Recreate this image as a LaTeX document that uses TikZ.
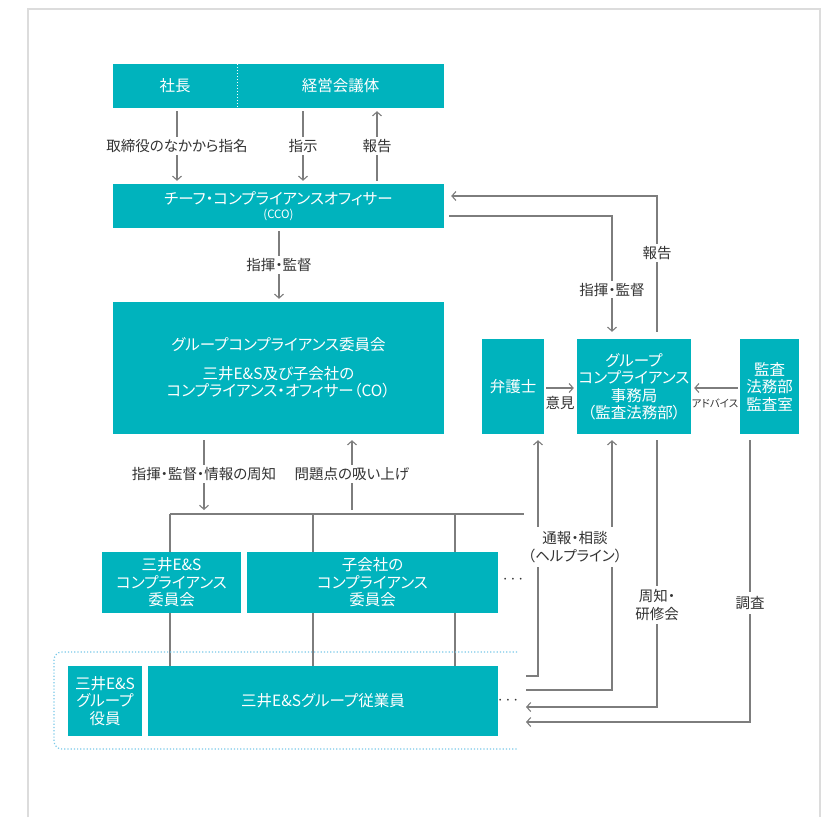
\documentclass[tikz,border=0pt]{standalone}
\usepackage{fontspec}
\setmainfont{Noto Sans CJK JP}[RawFeature=+palt]
\usetikzlibrary{arrows.meta,backgrounds}
\definecolor{boxteal}{RGB}{0,179,189}
\definecolor{linegray}{RGB}{125,125,125}
\definecolor{textgray}{RGB}{51,51,51}
\definecolor{dotblue}{RGB}{120,200,232}
\definecolor{framegray}{RGB}{220,220,220}
\tikzset{
    box/.style={fill=boxteal, text=white, align=center, inner sep=0pt, font=\fontsize{15.5}{17.5}\selectfont},
    conn/.style={draw=linegray, line width=1.1pt},
    arr/.style={conn, -{Straight Barb[length=4pt,width=9pt]}, shorten >=3pt, shorten <=3pt},
    lbl/.style={fill=white, text=textgray, inner sep=2pt, align=center, font=\fontsize{14.5}{17.5}\selectfont},
    dots/.style={text=textgray, inner sep=0pt, font=\fontsize{17}{17}\selectfont}
}
\begin{document}
\begin{tikzpicture}[x=1pt, y=-1pt]
    \useasboundingbox (0,0) rectangle (837,817);
    \draw [framegray, line width=1.2pt] (28,817) -- (28,9) -- (820,9) -- (820,817);
    \node [box, minimum width=124, minimum height=44] (shacho) at (175,86) {社長};
    \node [box, minimum width=207, minimum height=44] (keiei) at (340.5,86) {経営会議体};
    \draw [white, dotted, line width=1pt] (shacho.north east) -- (shacho.south east);
    \node [box, minimum width=331, minimum height=44] (cco) at (278.5,206) {チーフ・コンプライアンスオフィサー\\[-3pt]{\fontsize{11.5}{13}\selectfont (CCO)}};
    \node [box, minimum width=331, minimum height=132] (iinkai) at (278.5,368) {グループコンプライアンス委員会\\[11pt]三井E\&S及び子会社の\\コンプライアンス・オフィサー（CO）};
    \node [box, minimum width=62, minimum height=95] (bengoshi) at (513,386.5) {弁護士};
    \node [box, minimum width=114, minimum height=95] (jimukyoku) at (634,386.5) {グループ\\コンプライアンス\\事務局\\（監査法務部）};
    \node [box, minimum width=59, minimum height=95] (kansa) at (769.5,386.5) {監査\\法務部\\監査室};
    \node [box, minimum width=139, minimum height=61] (esiinkai) at (171.5,582.5) {三井E\&S\\コンプライアンス\\委員会};
    \node [box, minimum width=251, minimum height=61] (kogaisha) at (372.5,582.5) {子会社の\\コンプライアンス\\委員会};
    \node [box, minimum width=74, minimum height=70] (yakuin) at (105,701) {三井E\&S\\グループ\\役員};
    \node [box, minimum width=350, minimum height=70] (jugyoin) at (323,701) {三井E\&Sグループ従業員};
    \node [dots] (dotsA) at (513,580) {$\cdots$};
    \node [dots] (dotsB) at (508,701) {$\cdots$};
    \draw [dotblue, dotted, line width=1.2pt, rounded corners=8pt] (517,652) -- (54,652) -- (54,749) -- (517,749);
    \coordinate (tree) at (170,514);
    \begin{scope}[on background layer]
        \draw [conn] (tree) -- (524,514);
        \foreach \xx in {170,313,455} \draw [conn] (tree -| \xx,0) -- (jugyoin.north -| \xx,0);
    \end{scope}
    \draw [arr] (shacho.south -| 177,0) -- (cco.north -| 177,0) node [lbl, midway] (lshimei) {取締役のなかから指名};
    \draw [arr] (keiei.south -| 303,0) -- (cco.north -| 303,0) node [lbl, midway] (lshiji) {指示};
    \draw [arr] (cco.north -| 377,0) -- (keiei.south -| 377,0) node [lbl, midway] (lhoukoku) {報告};
    \draw [arr] (cco.south -| 279,0) -- (iinkai.north -| 279,0) node [lbl, midway] (lshiki) {指揮・監督};
    \draw [arr, shorten >=4pt, shorten <=6pt] (iinkai.south -| 204,0) -- (tree -| 204,0) node [lbl, midway] (lshuchi) {指揮・監督・情報の周知};
    \draw [arr, shorten >=6pt, shorten <=4pt] (tree -| 352,0) -- (iinkai.south -| 352,0) node [lbl, midway] (lsuiage) {問題点の吸い上げ};
    \draw [arr, shorten >=7pt, shorten <=5pt] (cco.east |- 0,216) -| (jimukyoku.north -| 612,0) node [lbl, pos=0.8] (lshiki2) {指揮・監督};
    \draw [arr, shorten >=7pt, shorten <=7pt] (jimukyoku.north -| 657,0) |- (cco.east |- 0,196) node [lbl, pos=0.3] (lhoukoku2) {報告};
    \draw [arr, shorten >=3pt, shorten <=2pt] (bengoshi.east |- 0,388) -- (jimukyoku.west |- 0,388);
    \node [lbl, fill=none, inner sep=0pt] (liken) at (560,403) {意見};
    \draw [arr, shorten >=3pt, shorten <=2pt] (kansa.west |- 0,388) -- (jimukyoku.east |- 0,388);
    \node [lbl, fill=none, inner sep=0pt, font=\fontsize{10.5}{12}\selectfont] (ladvice) at (715,403) {アドバイス};
    \coordinate (helpA) at (526,676);
    \coordinate (helpB) at (526,690);
    \coordinate (kenshu) at (526,707);
    \coordinate (chosa) at (526,722);
    \draw [arr, shorten <=0pt, shorten >=6pt] (helpA) -| (bengoshi.south -| 538,0);
    \draw [arr, shorten <=0pt, shorten >=6pt] (helpB) -| (jimukyoku.south -| 612,0);
    \draw [arr, shorten <=6pt, shorten >=0pt] (jimukyoku.south -| 657,0) |- (kenshu);
    \draw [arr, shorten <=6pt, shorten >=0pt] (kansa.south -| 750,0) |- (chosa);
    \node [lbl, inner sep=4pt] (lhelp) at (575,547) {通報・相談\\（ヘルプライン）};
    \node [lbl, inner sep=4pt] (lkenshu) at (657,605) {周知・\\研修会};
    \node [lbl, inner sep=4pt] (lchosa) at (750,603) {調査};
\end{tikzpicture}
\end{document}
